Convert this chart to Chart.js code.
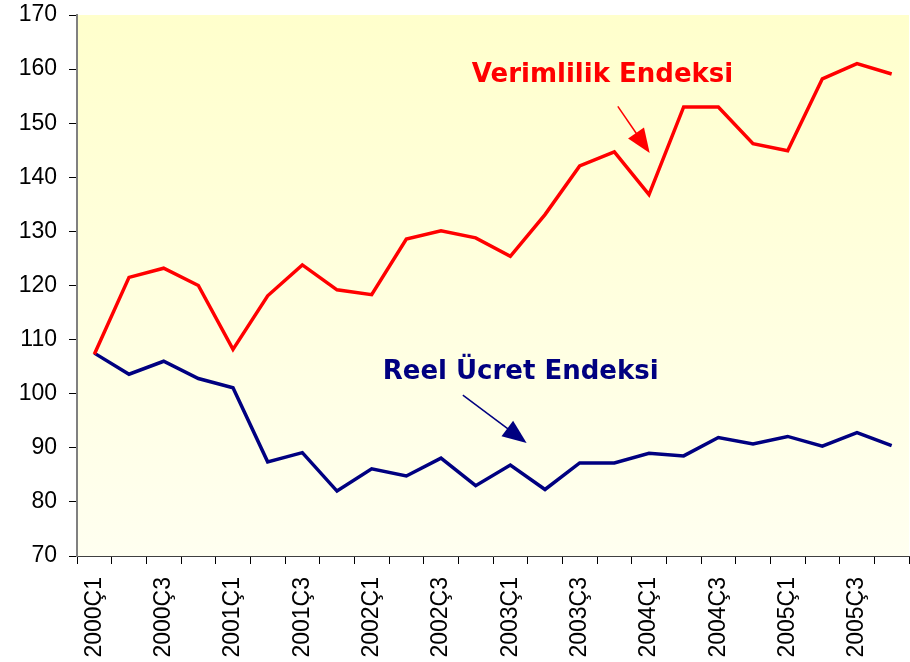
<!DOCTYPE html>
<html>
<head>
<meta charset="utf-8">
<script src="https://cdn.jsdelivr.net/npm/chart.js@4"></script>
<style>
    html, body { margin: 0; padding: 0; background: #ffffff; }
    #wrap { width: 910px; height: 662px; }
</style>
</head>
<body>
<div id="wrap"><canvas id="chart" width="910" height="662"></canvas></div>
<script>
// quarters 2000Ç1 .. 2005Ç4
const quarters = [
    '2000Ç1', '2000Ç2', '2000Ç3', '2000Ç4',
    '2001Ç1', '2001Ç2', '2001Ç3', '2001Ç4',
    '2002Ç1', '2002Ç2', '2002Ç3', '2002Ç4',
    '2003Ç1', '2003Ç2', '2003Ç3', '2003Ç4',
    '2004Ç1', '2004Ç2', '2004Ç3', '2004Ç4',
    '2005Ç1', '2005Ç2', '2005Ç3', '2005Ç4'
];

const verimlilik = [
    107.3, 121.5, 123.2, 120.0, 108.2, 118.1, 123.8, 119.2,
    118.3, 128.6, 130.1, 128.8, 125.4, 133.1, 142.1, 144.7,
    136.8, 153.0, 153.0, 146.2, 144.9, 158.2, 161.0, 159.1
];

const reelUcret = [
    107.5, 103.6, 106.0, 102.8, 101.1, 87.4, 89.1, 82.0,
    86.1, 84.8, 88.1, 83.0, 86.8, 82.3, 87.2, 87.2,
    89.0, 88.5, 91.9, 90.7, 92.1, 90.3, 92.8, 90.4
];

const yTicks = [70, 80, 90, 100, 110, 120, 130, 140, 150, 160, 170];

// annotation anchors in data units: [category index, value]
const labels = [
    { text: 'Verimlilik Endeksi', color: '#ff0000', at: [10.89, 158.8],
      arrowFrom: [15.1, 153.1], arrowTo: [16.02, 144.5] },
    { text: 'Reel Ücret Endeksi', color: '#000080', at: [8.32, 104.0],
      arrowFrom: [10.63, 99.75], arrowTo: [12.47, 90.9] }
];

const TICK_FONT = '"Liberation Sans", Arial, sans-serif';
const LABEL_FONT = '"DejaVu Sans", Verdana, sans-serif';

// yellow gradient behind the plot area
const backgroundPlugin = {
    id: 'plotBackground',
    beforeDraw(chart) {
        const { ctx, chartArea: a } = chart;
        const g = ctx.createLinearGradient(0, a.top, 0, a.bottom);
        g.addColorStop(0, '#ffffcc');
        g.addColorStop(1, '#fffff0');
        ctx.save();
        ctx.fillStyle = g;
        ctx.fillRect(a.left, a.top, a.right - a.left, a.bottom - a.top);
        ctx.restore();
    }
};

// text labels with arrows
const labelPlugin = {
    id: 'seriesLabels',
    afterDatasetsDraw(chart) {
        const { ctx, scales: { x, y } } = chart;
        ctx.save();
        labels.forEach(l => {
            ctx.fillStyle = l.color;
            ctx.strokeStyle = l.color;
            ctx.font = 'bold 26px ' + LABEL_FONT;
            ctx.textAlign = 'left';
            ctx.textBaseline = 'middle';
            ctx.fillText(l.text, x.getPixelForValue(l.at[0]), y.getPixelForValue(l.at[1]));

            const x1 = x.getPixelForValue(l.arrowFrom[0]), y1 = y.getPixelForValue(l.arrowFrom[1]);
            const x2 = x.getPixelForValue(l.arrowTo[0]), y2 = y.getPixelForValue(l.arrowTo[1]);
            const ang = Math.atan2(y2 - y1, x2 - x1);
            const head = 26, half = 0.38;
            ctx.lineWidth = 1.5;
            ctx.beginPath();
            ctx.moveTo(x1, y1);
            ctx.lineTo(x2 - head * 0.8 * Math.cos(ang), y2 - head * 0.8 * Math.sin(ang));
            ctx.stroke();
            ctx.beginPath();
            ctx.moveTo(x2, y2);
            ctx.lineTo(x2 - head * Math.cos(ang - half), y2 - head * Math.sin(ang - half));
            ctx.lineTo(x2 - head * Math.cos(ang + half), y2 - head * Math.sin(ang + half));
            ctx.closePath();
            ctx.fill();
        });
        ctx.restore();
    }
};

// drop the extra room chart.js keeps for overhanging tick labels
function noAxisPadding(axis) {
    axis.paddingLeft = 0;
    axis.paddingRight = 0;
    axis.paddingTop = 0;
    axis.paddingBottom = 0;
}

new Chart(document.getElementById('chart'), {
    type: 'line',
    data: {
        labels: quarters,
        datasets: [
            {
                label: 'Verimlilik Endeksi',
                data: verimlilik,
                borderColor: '#ff0000',
                borderWidth: 3.5,
                pointRadius: 0,
                tension: 0
            },
            {
                label: 'Reel Ücret Endeksi',
                data: reelUcret,
                borderColor: '#000080',
                borderWidth: 3.5,
                pointRadius: 0,
                tension: 0
            }
        ]
    },
    options: {
        responsive: false,
        animation: false,
        layout: { padding: { top: 15, right: 1, left: 19, bottom: 4 } },
        plugins: {
            legend: { display: false },
            tooltip: { enabled: false }
        },
        scales: {
            x: {
                offset: true,
                afterFit: axis => {
                    noAxisPadding(axis);
                    axis.height = 102;
                },
                grid: {
                    display: true,
                    drawOnChartArea: false,
                    offset: true,
                    tickLength: 8,
                    color: '#000000'
                },
                border: { color: '#404040', width: 1 },
                ticks: {
                    autoSkip: false,
                    minRotation: 90,
                    maxRotation: 90,
                    color: '#000000',
                    padding: 13,
                    font: { family: TICK_FONT, size: 23 },
                    callback: function(value, index) {
                        return index % 2 === 0 ? quarters[index] : '';
                    }
                }
            },
            y: {
                min: 70,
                max: 170,
                afterFit: axis => {
                    noAxisPadding(axis);
                    axis.width = 58;
                },
                afterBuildTicks: axis => {
                    axis.ticks = yTicks.map(v => ({ value: v }));
                },
                grid: {
                    display: true,
                    drawOnChartArea: false,
                    tickLength: 8,
                    color: '#000000'
                },
                border: { color: '#808080', width: 2 },
                ticks: {
                    color: '#000000',
                    padding: 12,
                    font: { family: TICK_FONT, size: 23 }
                }
            }
        }
    },
    plugins: [backgroundPlugin, labelPlugin]
});
</script>
</body>
</html>
